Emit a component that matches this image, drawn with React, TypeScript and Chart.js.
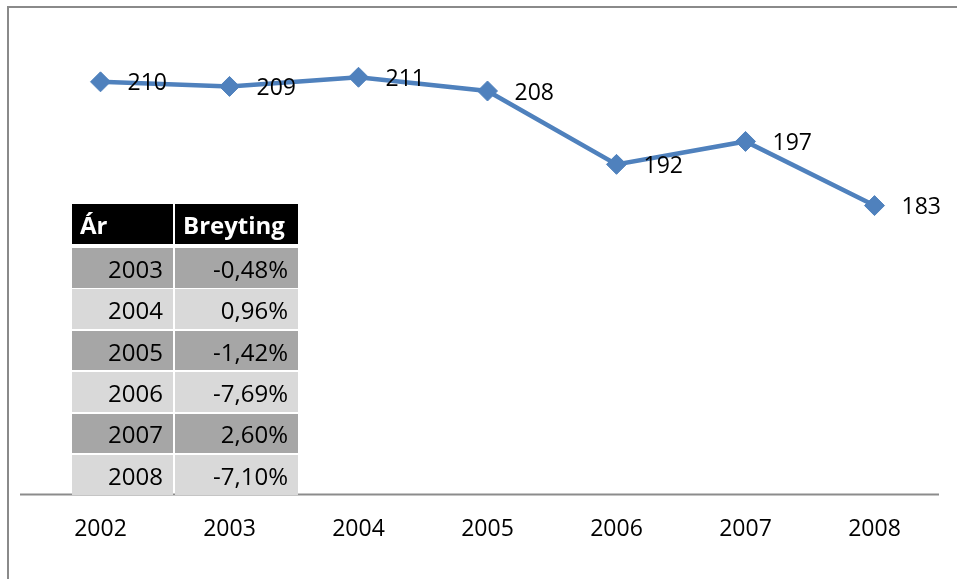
import React, { useEffect, useRef } from "react";
import { Chart, registerables } from "chart.js";

Chart.register(...registerables);

const years = ["2002", "2003", "2004", "2005", "2006", "2007", "2008"];
const values = [210, 209, 211, 208, 192, 197, 183];

const tableHeaders = ["Ár", "Breyting"];
const tableYears = ["2003", "2004", "2005", "2006", "2007", "2008"];
const tableChanges = ["-0,48%", "0,96%", "-1,42%", "-7,69%", "2,60%", "-7,10%"];

const FONT = "'Open Sans', 'Noto Sans', sans-serif";
const LINE_COLOR = "#4f81bd";

const pointLabelPlugin = {
  id: "pointLabelPlugin",
  beforeDatasetsDraw(chart: any) {
    const ctx = chart.ctx;
    const area = chart.chartArea;
    ctx.save();
    ctx.strokeStyle = "#8c8c8c";
    ctx.lineWidth = 2;
    ctx.beginPath();
    ctx.moveTo(20, area.bottom);
    ctx.lineTo(area.right, area.bottom);
    ctx.stroke();
    ctx.restore();
  },
  afterDatasetsDraw(chart: any) {
    const ctx = chart.ctx;
    const meta = chart.getDatasetMeta(0);
    ctx.save();
    ctx.font = `23px ${FONT}`;
    ctx.fillStyle = "#000";
    ctx.textAlign = "left";
    ctx.textBaseline = "middle";
    meta.data.forEach((pt: any, i: number) => {
      ctx.fillText(String(values[i]), pt.x + 27, pt.y + 2);
    });
    ctx.restore();
  },
};

function DataTable() {
  const left1 = 72;
  const w1 = 101;
  const left2 = 175;
  const w2 = 123;
  const cell = (
    key: string,
    text: string,
    left: number,
    top: number,
    width: number,
    height: number,
    bg: string,
    header: boolean
  ) => (
    <div
      key={key}
      style={{
        position: "absolute",
        left,
        top,
        width,
        height,
        background: bg,
        color: header ? "#fff" : "#000",
        fontWeight: header ? 700 : 400,
        fontFamily: FONT,
        fontSize: 24,
        display: "flex",
        alignItems: "center",
        justifyContent: header ? "flex-start" : "flex-end",
        boxSizing: "border-box",
        padding: header ? "2px 0 0 8px" : "2px 10px 0 0",
        lineHeight: 1,
      }}
    >
      {text}
    </div>
  );
  const items: any[] = [];
  items.push(cell("h0", tableHeaders[0], left1, 204, w1, 40, "#000", true));
  items.push(cell("h1", tableHeaders[1], left2, 204, w2, 40, "#000", true));
  tableYears.forEach((y, i) => {
    const top = 248 + i * 41.4;
    const bg = i % 2 === 0 ? "#a6a6a6" : "#d9d9d9";
    items.push(cell("y" + i, y, left1, top, w1, 39.5, bg, false));
    items.push(cell("c" + i, tableChanges[i], left2, top, w2, 39.5, bg, false));
  });
  return <>{items}</>;
}

export default function App() {
  const canvasRef = useRef<HTMLCanvasElement | null>(null);

  useEffect(() => {
    if (!canvasRef.current) return;
    const chart = new Chart(canvasRef.current, {
      type: "line",
      data: {
        labels: years,
        datasets: [
          {
            data: values,
            borderColor: LINE_COLOR,
            backgroundColor: LINE_COLOR,
            borderWidth: 4.5,
            pointStyle: "rectRot",
            pointRadius: 10,
            pointBorderWidth: 1,
            pointBackgroundColor: LINE_COLOR,
            pointBorderColor: LINE_COLOR,
            tension: 0,
          },
        ],
      },
      options: {
        animation: false,
        responsive: false,
        devicePixelRatio: 1,
        layout: { padding: { left: 36, right: 18, top: 36, bottom: 15 } },
        plugins: {
          legend: { display: false },
          tooltip: { enabled: false },
          title: { display: false },
        },
        scales: {
          x: {
            type: "category",
            offset: true,
            grid: { display: false, drawTicks: false },
            border: { display: false },
            ticks: {
              color: "#000",
              font: { family: FONT, size: 23 },
              padding: 21,
              maxRotation: 0,
            },
          },
          y: {
            display: false,
            min: 120,
            max: 220,
          },
        },
      },
      plugins: [pointLabelPlugin],
    } as any);
    return () => chart.destroy();
  }, []);

  return (
    <div
      style={{
        position: "absolute",
        left: 0,
        top: 0,
        width: 957,
        height: 579,
        background: "#fff",
        overflow: "hidden",
      }}
    >
      <canvas ref={canvasRef} width={957} height={579} style={{ position: "absolute", left: 0, top: 0 }} />
      <div
        style={{
          position: "absolute",
          left: 7,
          top: 6,
          width: 960,
          height: 600,
          borderLeft: "2px solid #8a8a8a",
          borderTop: "2px solid #8a8a8a",
        }}
      />
      <DataTable />
    </div>
  );
}
